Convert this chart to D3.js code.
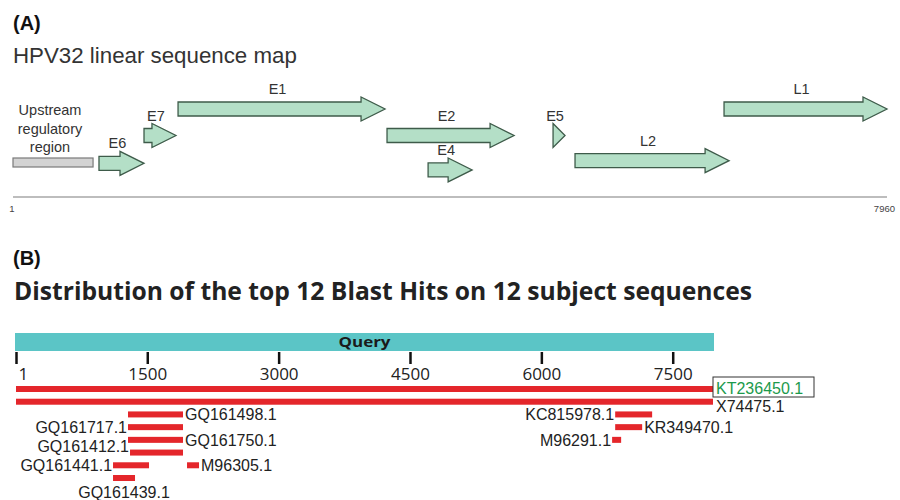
<!DOCTYPE html>
<html lang="en">

<head>
    <meta charset="UTF-8">
    <title>HPV32 map and Blast hits</title>
    <script src="https://d3js.org/d3.v7.min.js"></script>
    <style>
        body {
            margin: 0;
            padding: 0;
            background-color: #fff;
        }

        .panel-tag {
            font-family: 'Liberation Sans', Arial, sans-serif;
            font-weight: bold;
            font-size: 20px;
            fill: #111;
        }

        .gene-label {
            font-family: 'Liberation Sans', Arial, sans-serif;
            font-size: 14.5px;
            fill: #333;
        }

        .hit-label {
            font-family: 'Liberation Sans', Arial, sans-serif;
            font-size: 16px;
            fill: #222;
        }

        .axis-b text {
            font-family: 'Open Sans', sans-serif;
            font-size: 17px;
            fill: #222;
        }
    </style>
</head>

<body>
    <svg id="chart" width="900" height="500"></svg>
    <script>
        // ---- Panel A: genome map ----
        const genomeLength = 7960;
        const geneNames = ["Upstream regulatory region", "E6", "E7", "E1", "E2", "E4", "E5", "L2", "L1"];
        const geneStart = [1, 784, 1194, 1504, 3407, 3781, 4919, 5119, 6476];
        const geneEnd = [730, 1194, 1485, 3389, 4564, 4182, 5028, 6522, 7960];
        const geneLane = [2, 2.05, 1, 0, 1, 2.3, 1, 1.95, 0];

        // ---- Panel B: blast hits ----
        const queryTicks = [1, 1500, 3000, 4500, 6000, 7500];
        const hitIds = ["KT236450.1", "X74475.1", "GQ161498.1", "GQ161717.1", "GQ161750.1", "GQ161412.1",
            "GQ161441.1", "M96305.1", "GQ161439.1", "KC815978.1", "KR349470.1", "M96291.1"];
        const hitStart = [1, 1, 1280, 1280, 1280, 1303, 1109, 1954, 1109, 6843, 6843, 6808];
        const hitEnd = [7960, 7960, 1908, 1908, 1908, 1908, 1520, 2091, 1360, 7265, 7151, 6911];
        const hitRow = [0, 1, 2, 3, 4, 5, 6, 6, 7, 2, 3, 4];
        const hitLabelSide = ["box", "under", "right", "left", "right", "left", "left", "right", "below", "left", "right", "left"];

        const svg = d3.select("#chart");

        // Panel A
        svg.append("text").attr("class", "panel-tag").attr("x", 13).attr("y", 30).text("(A)");
        svg.append("text")
            .attr("x", 13).attr("y", 63)
            .style("font-family", "'Liberation Sans', Arial, sans-serif")
            .style("font-size", "22.3px")
            .style("fill", "#333")
            .text("HPV32 linear sequence map");

        const xA = d3.scaleLinear().domain([1, genomeLength]).range([13, 887]);
        const laneY = d3.scaleLinear().domain([0, 2]).range([109, 162]);

        svg.append("line")
            .attr("x1", xA(1)).attr("x2", xA(genomeLength))
            .attr("y1", 197).attr("y2", 197)
            .attr("stroke", "#bdbdbd").attr("stroke-width", 2);

        svg.append("text").attr("x", 12).attr("y", 212).attr("text-anchor", "middle")
            .style("font-family", "Arial, sans-serif").style("font-size", "9.5px").style("fill", "#444")
            .text("1");
        svg.append("text").attr("x", 895).attr("y", 212).attr("text-anchor", "end")
            .style("font-family", "Arial, sans-serif").style("font-size", "9.5px").style("fill", "#444")
            .text(String(genomeLength));

        function arrowPath(x0, x1, cy) {
            const len = x1 - x0;
            if (len <= 14) {
                return `M${x0},${cy - 12}L${x1},${cy}L${x0},${cy + 12}Z`;
            }
            const h = Math.min(24, len);
            const xh = x1 - h;
            return `M${x0},${cy - 7}L${xh},${cy - 7}L${xh},${cy - 12}L${x1},${cy}` +
                `L${xh},${cy + 12}L${xh},${cy + 7}L${x0},${cy + 7}Z`;
        }

        geneNames.forEach((name, i) => {
            const x0 = xA(geneStart[i]);
            const x1 = xA(geneEnd[i]);
            const cy = laneY(geneLane[i]);
            if (i === 0) {
                // regulatory region: plain grey bar with three-line label
                svg.append("rect")
                    .attr("x", x0).attr("y", cy - 4)
                    .attr("width", x1 - x0).attr("height", 9)
                    .attr("fill", "#d3d3d3").attr("stroke", "#7a7a7a").attr("stroke-width", 1.2);
                const words = ["Upstream", "regulatory", "region"];
                words.forEach((w, k) => {
                    svg.append("text").attr("class", "gene-label")
                        .attr("x", (x0 + x1) / 2 - 3).attr("y", 115 + k * 18.5)
                        .attr("text-anchor", "middle").text(w);
                });
                return;
            }
            svg.append("path")
                .attr("d", arrowPath(x0, x1, cy))
                .attr("fill", "#b4dfc7")
                .attr("stroke", "#3e5b4a")
                .attr("stroke-width", 1.3);
            svg.append("text").attr("class", "gene-label")
                .attr("x", (x0 + x1) / 2 - 4).attr("y", cy - 15)
                .attr("text-anchor", "middle").text(name);
        });

        // Panel B
        svg.append("text").attr("class", "panel-tag").attr("x", 13).attr("y", 265).text("(B)");
        svg.append("text")
            .attr("x", 14).attr("y", 300)
            .attr("textLength", 738).attr("lengthAdjust", "spacingAndGlyphs")
            .style("font-family", "'Open Sans', sans-serif")
            .style("font-weight", "bold")
            .style("font-size", "25px")
            .style("fill", "#222")
            .text("Distribution of the top 12 Blast Hits on 12 subject sequences");

        const xB = d3.scaleLinear().domain([1, genomeLength]).range([16, 713]);
        const rowY = d3.scaleLinear().domain([0, 7]).range([389, 478]);

        svg.append("rect")
            .attr("x", xB(1) - 1).attr("y", 333)
            .attr("width", xB(genomeLength) - xB(1) + 2).attr("height", 18)
            .attr("fill", "#5bc5c6");
        svg.append("text")
            .attr("x", (xB(1) + xB(genomeLength)) / 2).attr("y", 347)
            .attr("text-anchor", "middle")
            .attr("textLength", 52).attr("lengthAdjust", "spacingAndGlyphs")
            .style("font-family", "'Open Sans', sans-serif")
            .style("font-weight", "bold")
            .style("font-size", "14px")
            .style("fill", "#1a1a1a")
            .text("Query");

        const axisB = svg.append("g")
            .attr("class", "axis-b")
            .attr("transform", "translate(0,352)")
            .call(d3.axisBottom(xB).tickValues(queryTicks).tickSize(12).tickPadding(4).tickFormat(d3.format("d")));
        axisB.select(".domain").remove();
        axisB.selectAll(".tick line").attr("stroke", "#111").attr("stroke-width", 2.5);
        axisB.selectAll(".tick text")
            .filter(d => d === 1)
            .attr("text-anchor", "start")
            .attr("x", 2);

        const sideLabels = [];
        hitIds.forEach((id, i) => {
            const x0 = xB(hitStart[i]);
            const x1 = xB(hitEnd[i]);
            const cy = rowY(hitRow[i]);
            svg.append("rect")
                .attr("x", x0).attr("y", cy - 3)
                .attr("width", x1 - x0).attr("height", 6)
                .attr("fill", "#e4262b");

            const side = hitLabelSide[i];
            const label = svg.append("text").attr("class", "hit-label").text(id);
            if (side === "box") {
                svg.insert("rect", "text.hit-label")
                    .attr("x", x1).attr("y", cy - 12)
                    .attr("width", 101).attr("height", 20)
                    .attr("fill", "#fff").attr("stroke", "#333").attr("stroke-width", 1);
                label.attr("x", x1 + 3).attr("y", cy + 5).style("fill", "#1c9a4c");
            } else if (side === "under") {
                label.attr("x", x1 + 3).attr("y", cy + 10);
            } else if (side === "right") {
                label.attr("x", x1 + 2).attr("y", cy + 6);
                sideLabels.push(label);
            } else if (side === "left") {
                label.attr("x", x0 - 1).attr("y", cy + 6).attr("text-anchor", "end");
                sideLabels.push(label);
            } else {
                label.attr("x", (x0 + x1) / 2).attr("y", cy + 20).attr("text-anchor", "middle");
            }
        });

        // nudge a label upward when it would collide with the one below it
        sideLabels.sort((a, b) => +b.attr("y") - +a.attr("y"));
        sideLabels.forEach((lab, k) => {
            const box = lab.node().getBBox();
            sideLabels.slice(0, k).forEach(other => {
                const ob = other.node().getBBox();
                const overlapX = box.x < ob.x + ob.width && ob.x < box.x + box.width;
                const gap = +other.attr("y") - +lab.attr("y");
                if (overlapX && gap < 18) {
                    lab.attr("y", +other.attr("y") - 19);
                }
            });
        });
    </script>
</body>

</html>
